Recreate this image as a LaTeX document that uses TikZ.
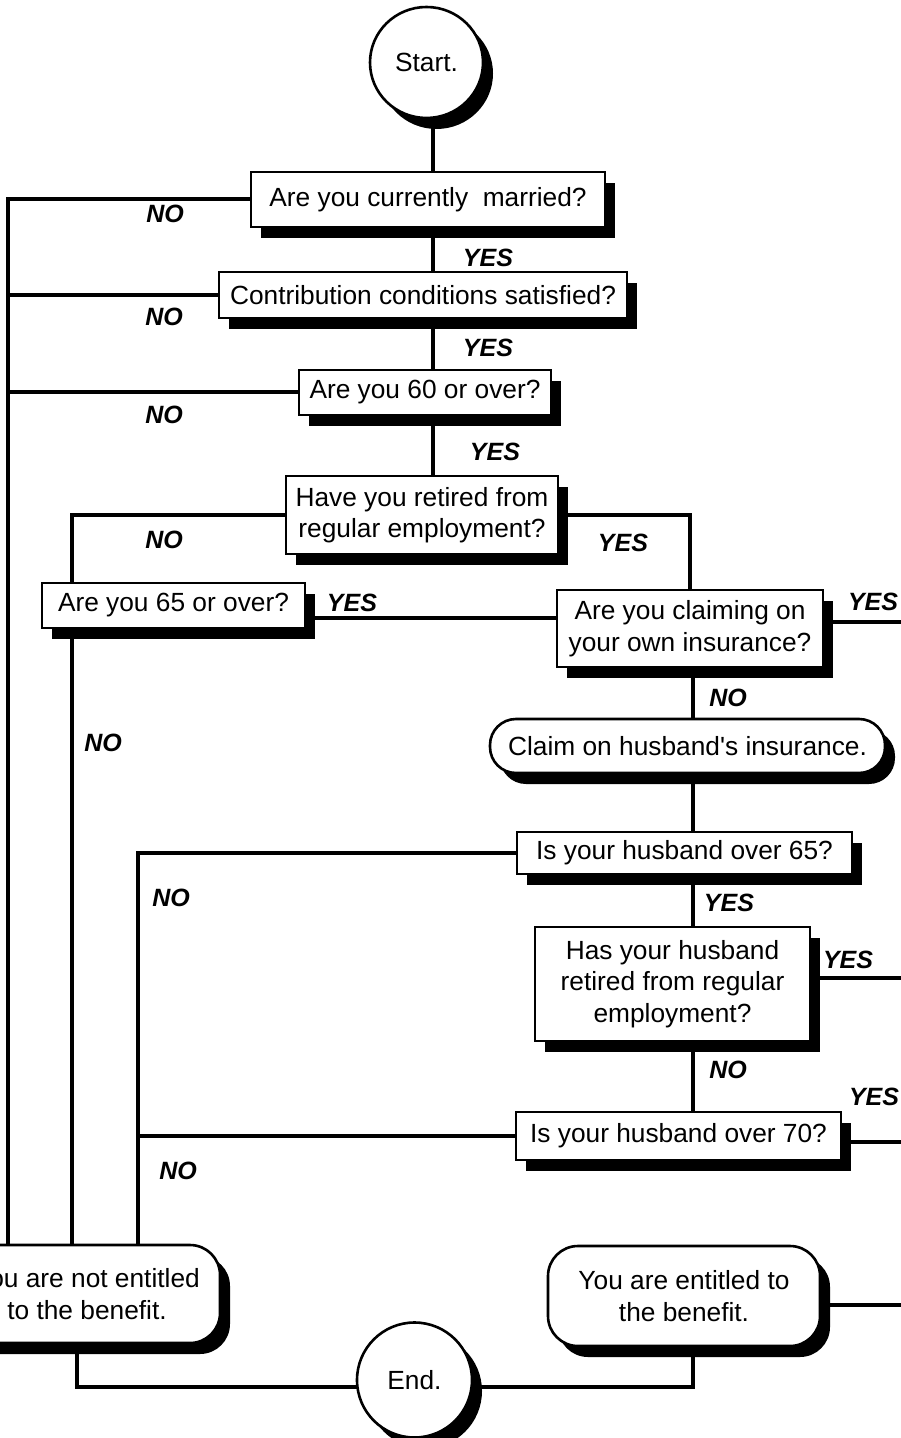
\documentclass[tikz,border=0pt]{standalone}
\usepackage{fontspec}
\setmainfont{Liberation Sans}
\usetikzlibrary{shapes.geometric,shadows}
\pgfdeclarelayer{background}
\pgfdeclarelayer{paper}
\pgfsetlayers{paper,background,main}
\begin{document}
\begin{tikzpicture}[x=0.5pt,y=-0.5pt,
  shad/.style={drop shadow={shadow xshift=5pt,shadow yshift=-5.5pt,fill=black,opacity=1}},
  qbox/.style={draw=black,line width=1.3pt,fill=white,inner sep=0pt,align=center,
    font=\fontsize{13.15pt}{15.8pt}\selectfont,shad},
  oval/.style={qbox,ellipse},
  term/.style={qbox,rounded corners=15pt},
  lbl/.style={font=\fontsize{12.5pt}{15pt}\selectfont\bfseries\itshape,inner sep=0pt},
  conn/.style={line width=2pt}
]
\useasboundingbox (0,0) rectangle (900,1438);
\clip (0,0) rectangle (900,1438);
\begin{pgfonlayer}{paper}
\fill[white] (0,0) rectangle (900,1438);
\end{pgfonlayer}

% nodes
\node[oval,minimum width=56.5pt,minimum height=55.5pt] (start) at (426.5,62.5) {Start.};
\node[qbox,minimum width=177pt,minimum height=27.5pt] (q1) at (428,199.5) {Are you currently~ married?};
\node[qbox,minimum width=204pt,minimum height=23pt] (q2) at (423,295) {Contribution conditions satisfied?};
\node[qbox,minimum width=126pt,minimum height=22.5pt] (q3) at (425,392.5) {Are you 60 or over?};
\node[qbox,minimum width=136pt,minimum height=39pt] (q4) at (422,515) {Have you retired from\\regular employment?};
\node[qbox,minimum width=131.5pt,minimum height=22.5pt] (q5) at (173.5,605.5) {Are you 65 or over?};
\node[qbox,minimum width=133pt,minimum height=38.5pt] (q6) at (690,628.5) {Are you claiming on\\your own insurance?};
\node[qbox,rounded corners=13pt,minimum width=197.5pt,minimum height=27pt] (claim) at (687.5,746) {Claim on husband\textquotesingle s insurance.};
\node[qbox,minimum width=167.5pt,minimum height=21pt] (q8) at (684.5,853) {Is your husband over 65?};
\node[qbox,minimum width=137.5pt,minimum height=57pt] (q9) at (672.5,984) {Has your husband\\retired from regular\\employment?};
\node[qbox,minimum width=162.5pt,minimum height=24pt] (q10) at (678.5,1136) {Is your husband over 70?};
\node[term,minimum width=133pt,minimum height=49pt] (notent) at (87,1294) {You are not entitled\\to the benefit.};
\node[term,minimum width=136pt,minimum height=50pt] (ent) at (684,1296) {You are entitled to\\the benefit.};
\node[oval,minimum width=57.5pt,minimum height=57.5pt] (fin) at (414.5,1380) {End.};

% helper coordinates
\coordinate (sA) at (433,0);
\coordinate (sB) at (693,0);
\coordinate (r1) at (8,0);
\coordinate (r2) at (72,0);
\coordinate (r3) at (138,0);
\coordinate (r4) at (77,0);
\coordinate (y65) at (0,618);
\coordinate (yEnd) at (0,1387);
\coordinate (o6) at (910,622);
\coordinate (o9) at (910,978);
\coordinate (o10) at (910,1142);
\coordinate (o12) at (910,1305);

\begin{pgfonlayer}{background}
\draw[conn] (start.center -| sA) -- (q1.center -| sA);
\draw[conn] (q1.center -| sA) -- (q2.center -| sA);
\draw[conn] (q2.center -| sA) -- (q3.center -| sA);
\draw[conn] (q3.center -| sA) -- (q4.center -| sA);
\draw[conn] (q1.center) -| (notent.north -| r1);
\draw[conn] (q2.center) -- (q2.west -| r1);
\draw[conn] (q3.center) -- (q3.west -| r1);
\draw[conn] (q4.center) -| (q5.center -| r2);
\draw[conn] (q4.center) -| (q6.center);
\draw[conn] (q5.center |- y65) -- (q6.center |- y65);
\draw[conn] (q6.center |- o6) -- (o6);
\draw[conn] (q5.center -| r2) -- (notent.north -| r2);
\draw[conn] (q6.center -| sB) -- (claim.center -| sB);
\draw[conn] (claim.center -| sB) -- (q8.center -| sB);
\draw[conn] (q8.center) -| (notent.north -| r3);
\draw[conn] (q8.center -| sB) -- (q9.center -| sB);
\draw[conn] (q9.center |- o9) -- (o9);
\draw[conn] (q9.center -| sB) -- (q10.center -| sB);
\draw[conn] (q10.center |- o10) -- (o10);
\draw[conn] (q10.center) -- (q10.west -| r3);
\draw[conn] (notent.center -| r4) |- (fin.center |- yEnd);
\draw[conn] (fin.center |- yEnd) -| (ent.center -| sB);
\draw[conn] (ent.center |- o12) -- (o12);
\end{pgfonlayer}

% labels
\node[lbl] (n1) at (165,214) {NO};
\node[lbl] (n2) at (164,317) {NO};
\node[lbl] (n3) at (164,415) {NO};
\node[lbl] (n4) at (164,540) {NO};
\node[lbl] (y1) at (488,258) {YES};
\node[lbl] (y2) at (488,348) {YES};
\node[lbl] (y3) at (495,452) {YES};
\node[lbl] (y4) at (623,543) {YES};
\node[lbl] (y5) at (352,603) {YES};
\node[lbl] (y6) at (873,602) {YES};
\node[lbl] (n5) at (728,698) {NO};
\node[lbl] (n6) at (103,743) {NO};
\node[lbl] (n7) at (171,898) {NO};
\node[lbl] (y7) at (729,903) {YES};
\node[lbl] (y8) at (848,960) {YES};
\node[lbl] (n8) at (728,1070) {NO};
\node[lbl] (y9) at (874,1097) {YES};
\node[lbl] (n9) at (178,1171) {NO};
\end{tikzpicture}
\end{document}
